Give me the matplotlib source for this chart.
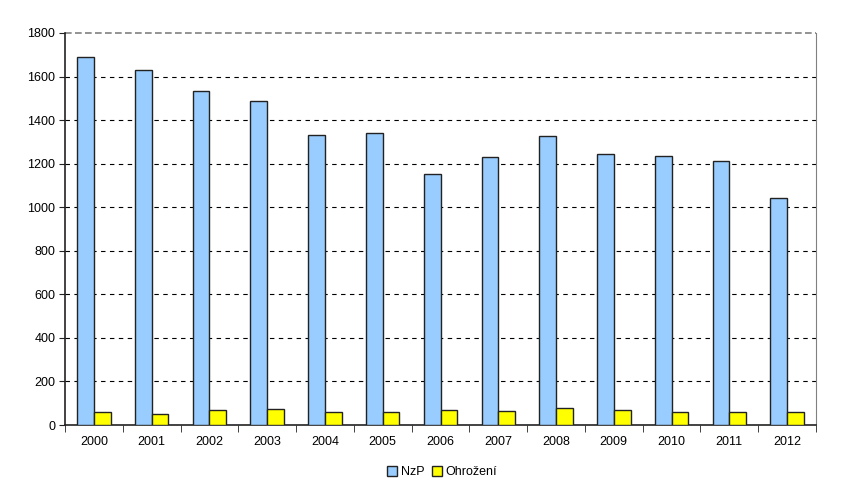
import matplotlib
matplotlib.use("Agg")
import matplotlib.pyplot as plt
import numpy as np

years = ["2000", "2001", "2002", "2003", "2004", "2005", "2006", "2007", "2008", "2009", "2010", "2011", "2012"]
nzp = [1690, 1630, 1533, 1488, 1331, 1341, 1151, 1229, 1328, 1244, 1236, 1212, 1042]
ohrozeni = [61, 52, 70, 75, 60, 60, 67, 65, 78, 69, 58, 58, 59]
yticks = [0, 200, 400, 600, 800, 1000, 1200, 1400, 1600, 1800]

plt.rcParams['font.family'] = ['Liberation Sans', 'DejaVu Sans']

fig = plt.figure(figsize=(8.43, 4.9), dpi=100)
ax = fig.add_axes([65/843, 65/490, 751/843, 392/490])

x = np.arange(len(years))
w = 0.29
ax.bar(x - w/2, nzp, width=w, color="#99CCFF", edgecolor="#222222", linewidth=1.0, label="NzP", zorder=3)
ax.bar(x + w/2, ohrozeni, width=w, color="#FFFF00", edgecolor="#222222", linewidth=1.0, label="Ohrožení", zorder=3)

ax.set_xlim(-0.5, len(years) - 0.5)
ax.set_ylim(0, 1800)
ax.set_yticks(yticks)
ax.set_yticklabels([str(v) for v in yticks], fontsize=9)
ax.set_xticks(x)
ax.set_xticklabels(years, fontsize=9)
ax.tick_params(axis='x', length=0, pad=8)
ax.set_xticks(np.arange(len(years) + 1) - 0.5, minor=True)
ax.tick_params(axis='x', which='minor', length=5, direction='out', color='#222222')
ax.tick_params(axis='y', length=4, direction='out', color='#222222', pad=3)

for v in yticks[1:-1]:
    ax.axhline(v, color='black', linestyle=(0, (4, 4)), linewidth=0.8, zorder=1)
ax.axhline(yticks[-1], color='#808080', linestyle=(0, (4, 2)), linewidth=1.2, zorder=1, clip_on=False)

ax.spines['left'].set_color('#222222')
ax.spines['bottom'].set_color('#222222')
ax.spines['left'].set_linewidth(1.2)
ax.spines['bottom'].set_linewidth(1.2)
ax.spines['right'].set_color('#808080')
ax.spines['top'].set_visible(False)

leg = fig.legend(loc='center', bbox_to_anchor=(442/843, 1 - 472/490), ncol=2, frameon=False,
                 fontsize=9, handlelength=0.8, handleheight=0.8, handletextpad=0.3, columnspacing=0.6)

fig.savefig("out.png", dpi=100)
